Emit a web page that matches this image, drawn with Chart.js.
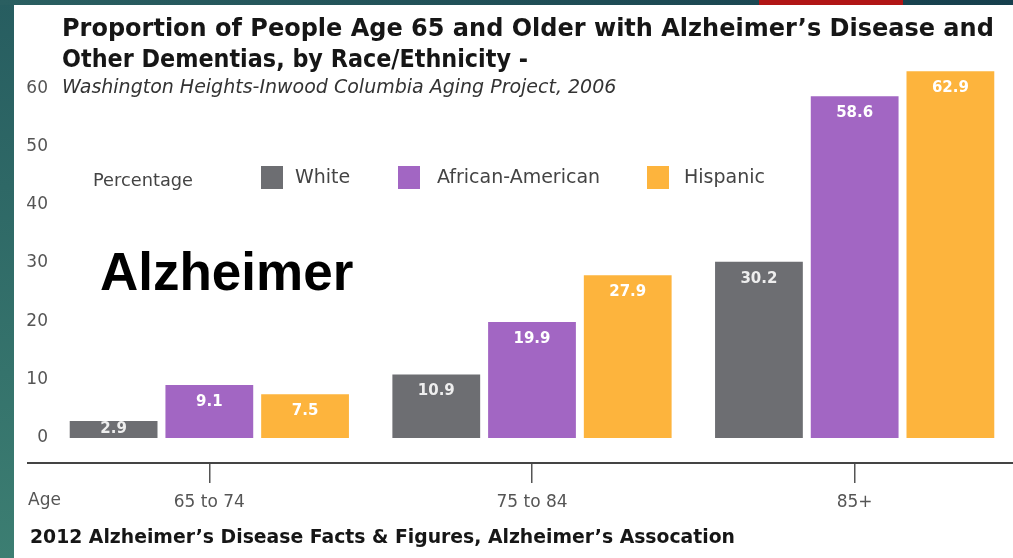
<!DOCTYPE html>
<html lang="en">
<head>
    <meta charset="UTF-8">
    <title>Alzheimer by Race/Ethnicity</title>
    <script src="https://cdn.jsdelivr.net/npm/chart.js"></script>
    <style>
        body {
            margin: 0;
            width: 1013px;
            height: 558px;
            overflow: hidden;
            position: relative;
            background: linear-gradient(180deg, #275d60, #3c7e72);
        }
        .topband {
            position: absolute;
            left: 0; top: 0; width: 1013px; height: 5px;
            background: linear-gradient(90deg, #2a5f61, #163f4d);
        }
        .redband {
            position: absolute;
            left: 759px; top: 0; width: 144px; height: 5px;
            background: #b11515;
        }
        .panel {
            position: absolute;
            left: 14px; top: 5px; right: 0; bottom: 0;
            background: #fff;
        }
        canvas {
            position: absolute;
            left: 0; top: 0;
        }
    </style>
</head>
<body>
    <div class="topband"></div>
    <div class="redband"></div>
    <div class="panel"></div>
    <canvas id="chart" width="1016" height="558"></canvas>

    <script>
        const ageGroups = ['65 to 74', '75 to 84', '85+'];
        const seriesNames = ['White', 'African-American', 'Hispanic'];
        const white = [2.9, 10.9, 30.2];
        const africanAmerican = [9.1, 19.9, 58.6];
        const hispanic = [7.5, 27.9, 62.9];
        const yTicks = [0, 10, 20, 30, 40, 50, 60];
        const colors = ['#6d6e72', '#a266c3', '#fdb43d'];

        const FONT = '"DejaVu Sans", Verdana, sans-serif';

        // titles, legend, labels drawn on top of the chart
        const textPlugin = {
            id: 'texts',
            afterDraw(chart) {
                const ctx = chart.ctx;
                const area = chart.chartArea;
                ctx.save();

                // axis line reaching past the y labels
                ctx.strokeStyle = '#444';
                ctx.lineWidth = 2;
                ctx.beginPath();
                ctx.moveTo(27, area.bottom);
                ctx.lineTo(chart.width, area.bottom);
                ctx.stroke();

                ctx.textBaseline = 'alphabetic';
                ctx.textAlign = 'left';
                ctx.fillStyle = '#161616';
                ctx.font = 'bold 24px ' + FONT;
                ctx.fillText('Proportion of People Age 65 and Older with Alzheimer\u2019s Disease and', 62, 36, 938);
                ctx.fillText('Other Dementias, by Race/Ethnicity -', 62, 67, 466);

                ctx.fillStyle = '#333';
                ctx.font = 'italic 19px ' + FONT;
                ctx.fillText('Washington Heights-Inwood Columbia Aging Project, 2006', 62, 93, 560);

                ctx.fillStyle = '#161616';
                ctx.font = 'bold 19px ' + FONT;
                ctx.fillText('2012 Alzheimer\u2019s Disease Facts & Figures, Alzheimer\u2019s Assocation', 30, 543, 705);

                ctx.fillStyle = '#000';
                ctx.font = 'bold 53px "Liberation Sans", Arial, sans-serif';
                ctx.fillText('Alzheimer', 100, 290);

                ctx.textBaseline = 'middle';
                ctx.fillStyle = '#555';
                ctx.font = '17px ' + FONT;
                ctx.fillText('Age', 28, 501, 34);

                // legend
                ctx.fillStyle = '#444';
                ctx.font = '18px ' + FONT;
                ctx.fillText('Percentage', 93, 181, 100);
                ctx.font = '19px ' + FONT;
                const boxX = [261, 398, 647];
                const textX = [295, 437, 684];
                const textW = [60, 170, 83];
                chart.data.datasets.forEach((ds, i) => {
                    ctx.fillStyle = ds.backgroundColor;
                    ctx.fillRect(boxX[i], 166, 22, 23);
                    ctx.fillStyle = '#444';
                    ctx.fillText(ds.label, textX[i], 178, textW[i]);
                });

                // value labels inside bars
                ctx.textAlign = 'center';
                ctx.font = 'bold 15px ' + FONT;
                chart.data.datasets.forEach((ds, i) => {
                    const meta = chart.getDatasetMeta(i);
                    meta.data.forEach((bar, j) => {
                        const h = bar.base - bar.y;
                        const ty = h < 34 ? bar.y + h / 2 : bar.y + 17;
                        ctx.fillStyle = i === 0 ? '#eeeeee' : '#ffffff';
                        ctx.fillText(ds.data[j].toFixed(1), bar.x, ty);
                    });
                });
                ctx.restore();
            }
        };

        new Chart(document.getElementById('chart'), {
            type: 'bar',
            data: {
                labels: ageGroups,
                datasets: [
                    { label: seriesNames[0], data: white, backgroundColor: colors[0] },
                    { label: seriesNames[1], data: africanAmerican, backgroundColor: colors[1] },
                    { label: seriesNames[2], data: hispanic, backgroundColor: colors[2] }
                ]
            },
            options: {
                responsive: false,
                animation: false,
                layout: { padding: { top: 59, right: 0, bottom: 0, left: 0 } },
                datasets: {
                    bar: { categoryPercentage: 0.89, barPercentage: 0.917, borderWidth: 0 }
                },
                plugins: {
                    legend: { display: false },
                    tooltip: { enabled: false }
                },
                scales: {
                    x: {
                        afterFit: s => { s.height = 95; },
                        border: { display: false },
                        grid: {
                            offset: false,
                            drawOnChartArea: false,
                            drawTicks: true,
                            tickLength: 20,
                            color: '#555',
                            lineWidth: 1.5
                        },
                        ticks: {
                            padding: 9,
                            color: '#555',
                            font: { family: FONT, size: 17 }
                        }
                    },
                    y: {
                        min: -4.3,
                        max: 65,
                        afterFit: s => { s.width = 48; },
                        afterBuildTicks: s => { s.ticks = yTicks.map(v => ({ value: v })); },
                        border: { display: false },
                        grid: { display: false, drawTicks: false },
                        ticks: {
                            padding: 0,
                            color: '#555',
                            font: { family: FONT, size: 17 }
                        }
                    }
                }
            },
            plugins: [textPlugin]
        });
    </script>
</body>
</html>
